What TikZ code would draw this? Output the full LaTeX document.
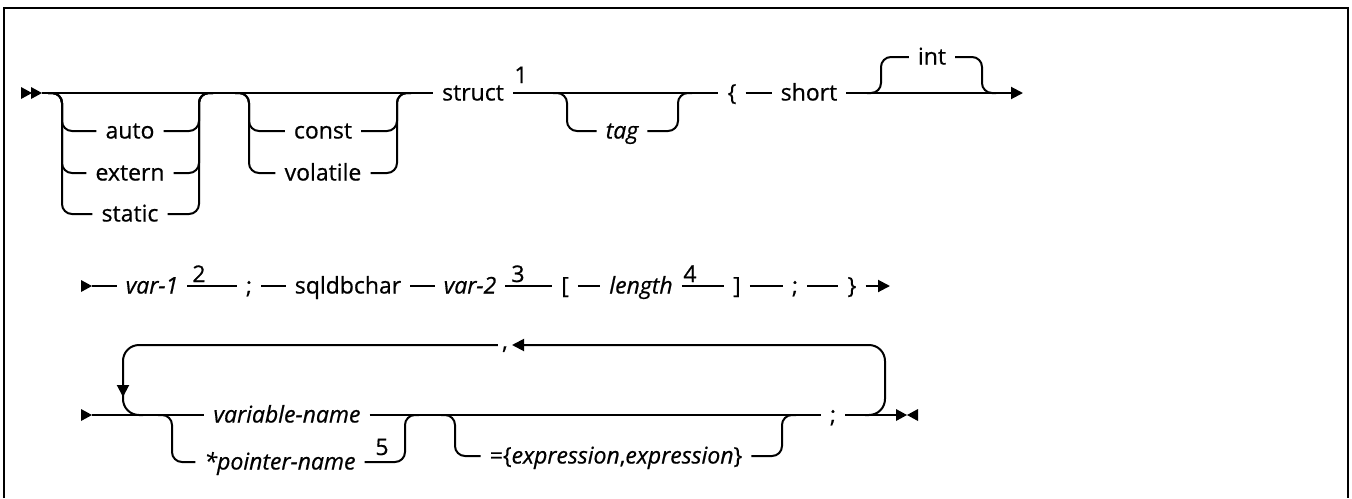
\documentclass[tikz,border=0pt]{standalone}
\usepackage{fontspec}
\setmainfont{Open Sans}[FakeBold=0.6]
\usetikzlibrary{arrows.meta}
\colorlet{railcol}{black}
\colorlet{framecol}{black}
\tikzset{
  every node/.style={font=\fontsize{23}{27}\selectfont, text=railcol},
  kw/.style={inner xsep=9pt, inner ysep=0pt, text height=17pt, text depth=2pt},
  arg/.style={kw, font=\fontsize{23}{27}\selectfont\itshape},
  fnote/.style={inner sep=0pt, anchor=base},
  rail/.style={line width=2pt, draw=railcol},
  optrail/.style={rail, rounded corners=10pt},
  backrail/.style={rail, rounded corners=16pt},
}

\begin{document}
\begin{tikzpicture}[x=1pt, y=-1pt, >={Triangle[length=12pt,width=12pt]}]

  \useasboundingbox (0,0) rectangle (1352,498);

  % Frame, open at the bottom.
  \draw[line width=2.5pt, framecol] (4,498) -- (4,8) -- (1348,8) -- (1348,498);

  % Row 1: storage class, qualifier, struct tag, short int.
  \coordinate (r1start) at (42,93);
  \fill[railcol] (21,87) -- (32,93) -- (21,99) -- cycle;
  \fill[railcol] (31,87) -- (42,93) -- (31,99) -- cycle;

  \node[kw] (auto)   at (130,131) {auto};
  \node[kw] (extern) at (130,173) {extern};
  \node[kw] (static) at (130,214) {static};
  \coordinate (scin)  at (62,93);
  \coordinate (scout) at (199,93);
  \foreach \opt in {auto,extern,static} {
    \draw[optrail] ([xshift=-14pt]scin) -- (scin) |- (\opt.west);
    \draw[optrail] (\opt.east) -| (scout) -- ([xshift=14pt]scout);
  }

  \node[kw] (const)    at (323,131) {const};
  \node[kw] (volatile) at (323,173) {volatile};
  \coordinate (cvin)  at (249,93);
  \coordinate (cvout) at (397,93);
  \foreach \opt in {const,volatile} {
    \draw[optrail] ([xshift=-14pt]cvin) -- (cvin) |- (\opt.west);
    \draw[optrail] (\opt.east) -| (cvout) -- ([xshift=14pt]cvout);
  }

  \node[kw] (struct) at (473,93) {struct};
  \node[fnote] (n1) at (521,83) {1};
  \node[arg] (tag) at (622,131) {tag};
  \coordinate (tagin)  at (567,93);
  \coordinate (tagout) at (678,93);
  \node[kw] (lbrace) at (732,93) {\{};
  \node[kw] (short)  at (809,93) {short};
  \node[kw] (int)    at (932,57) {int};
  \coordinate (intin)  at (881,93);
  \coordinate (intout) at (982,93);
  \coordinate (r1end)  at (1023,93);

  \draw[rail] (r1start) -- (struct);
  \draw[rail] (struct) -- (lbrace);
  \draw[rail] (lbrace) -- (short);
  \draw[rail, ->] (short) -- (r1end);
  \draw[optrail] ([xshift=-14pt]tagin) -- (tagin) |- (tag.west);
  \draw[optrail] (tag.east) -| (tagout) -- ([xshift=14pt]tagout);
  \draw[optrail] ([xshift=-14pt]intin) -- (intin) |- (int.west);
  \draw[optrail] (int.east) -| (intout) -- ([xshift=14pt]intout);

  % Row 2: members.
  \coordinate (r2start) at (92,286);
  \fill[railcol] (81,280) -- (92,286) -- (81,292) -- cycle;
  \node[arg] (var1)      at (152,286) {var-1};
  \node[fnote] (n2)      at (199,282) {2};
  \node[kw] (semi1)      at (249,286) {;};
  \node[kw] (sqldbchar)  at (348,286) {sqldbchar};
  \node[arg] (var2)      at (470,286) {var-2};
  \node[fnote] (n3)      at (518,282) {3};
  \node[kw] (lbrack)     at (565,286) {[};
  \node[arg] (length)    at (641,286) {length};
  \node[fnote] (n4)      at (690,282) {4};
  \node[kw] (rbrack)     at (737,286) {]};
  \node[kw] (semi2)      at (795,286) {;};
  \node[kw] (rbrace)     at (852,286) {\}};
  \coordinate (r2end) at (890,286);

  \draw[rail] (r2start) -- (var1);
  \draw[rail] (var1) -- (semi1);
  \draw[rail] (semi1) -- (sqldbchar);
  \draw[rail] (sqldbchar) -- (var2);
  \draw[rail] (var2) -- (lbrack);
  \draw[rail] (lbrack) -- (length);
  \draw[rail] (length) -- (rbrack);
  \draw[rail] (rbrack) -- (semi2);
  \draw[rail] (semi2) -- (rbrace);
  \draw[rail, ->] (rbrace) -- (r2end);

  % Row 3: declarators, repeated with a comma.
  \coordinate (r3start) at (92,415);
  \fill[railcol] (81,409) -- (92,415) -- (81,421) -- cycle;
  \node[arg] (varname) at (287,415) {variable-name};
  \node[arg] (ptrname) at (280,462) {*pointer-name};
  \node[fnote] (n5) at (382,455) {5};
  \coordinate (vpin)  at (172,415);
  \coordinate (vpout) at (405,415);
  \node[kw] (initexpr) at (616,456)
    {=\{\textit{expression},\textit{expression}\}};
  \coordinate (exin)  at (455,415);
  \coordinate (exout) at (782,415);
  \node[kw] (semi3) at (833,415) {;};
  \coordinate (r3end) at (896,415);
  \node[kw, text height=8pt, text depth=0pt, inner xsep=4pt] (comma) at (505,345) {,};
  \coordinate (loopl) at (123,415);
  \coordinate (loopr) at (885,415);

  \draw[rail] (r3start) -- (varname);
  \draw[rail] (varname) -- (semi3);
  \draw[rail] (semi3) -- (r3end);
  \draw[optrail] ([xshift=-14pt]vpin) -- (vpin) |- (ptrname.west);
  \draw[optrail] (ptrname.east) -| (vpout) -- ([xshift=14pt]vpout);
  \draw[optrail] ([xshift=-14pt]exin) -- (exin) |- (initexpr.west);
  \draw[optrail] (initexpr.east) -| (exout) -- ([xshift=14pt]exout);

  % Repeat loop.
  \draw[backrail, ->] ([xshift=-20pt]loopr) -- (loopr) -- (loopr |- comma) -- (comma);
  \draw[backrail, ->] (comma) -| ([yshift=18pt]loopl);
  \draw[backrail] ([yshift=22pt]loopl) -- (loopl) -- ([xshift=20pt]loopl);

  % End marker.
  \fill[railcol] (896,409) -- (907,415) -- (896,421) -- cycle;
  \fill[railcol] (918,409) -- (907,415) -- (918,421) -- cycle;

\end{tikzpicture}
\end{document}
